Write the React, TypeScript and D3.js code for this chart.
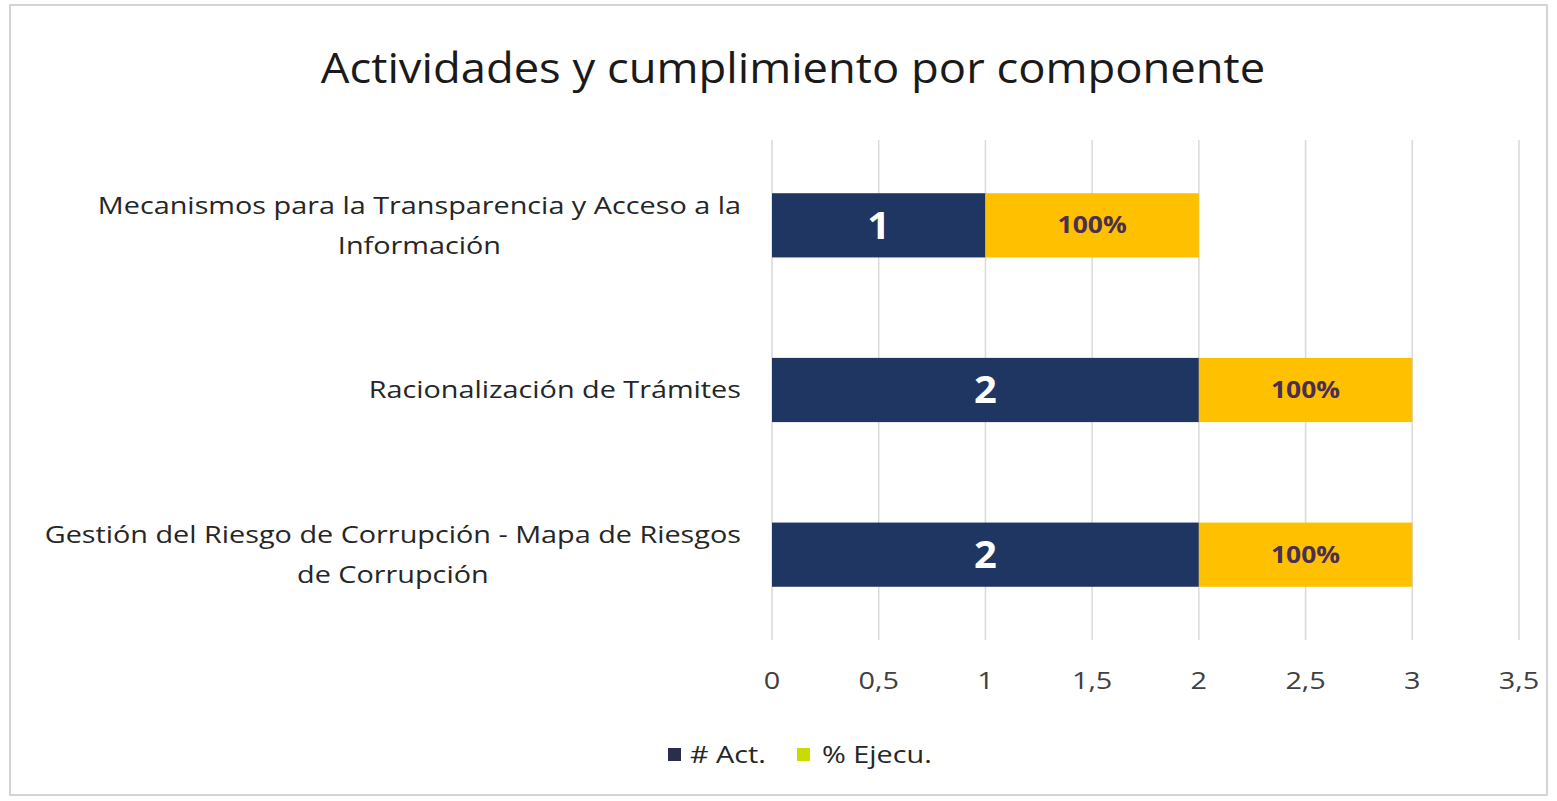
import React from "react";
import * as d3 from "d3";

const title = "Actividades y cumplimiento por componente";
const categories: string[][] = [
  ["Mecanismos para la Transparencia y Acceso a la", "Información"],
  ["Racionalización de Trámites"],
  ["Gestión del Riesgo de Corrupción - Mapa de Riesgos", "de Corrupción"],
];
const actValues = [1, 2, 2];
const ejecValues = [1, 1, 1];
const ejecLabels = ["100%", "100%", "100%"];
const xTicks = [0, 0.5, 1, 1.5, 2, 2.5, 3, 3.5];
const seriesNames = ["# Act.", "% Ejecu."];

const W = 1557;
const H = 801;
const FONT = "'Open Sans', sans-serif";

type STProps = {
  x: number;
  y: number;
  sx?: number;
  anchor?: "start" | "middle" | "end";
  size: number;
  fill: string;
  weight?: string;
  children: React.ReactNode;
};
function SText({ x, y, sx = 1.2, anchor = "start", size, fill, weight = "normal", children }: STProps) {
  return (
    <text
      transform={`translate(${x},${y}) scale(${sx},1)`}
      x={0}
      y={0}
      dy="0.35em"
      textAnchor={anchor}
      fontSize={size}
      fill={fill}
      fontWeight={weight}
    >
      {children}
    </text>
  );
}

export default function App() {
  const x = d3.scaleLinear().domain([0, 3.5]).range([772, 1519]);
  const y = d3
    .scaleBand<number>()
    .domain(d3.range(categories.length))
    .range([143, 637])
    .paddingInner(0.61)
    .paddingOuter(0.305);
  const fmt = (v: number) => String(v).replace(".", ",");
  const labelRight = 741;
  const sx = 1.2;
  return (
    <svg
      width={W}
      height={H}
      style={{ position: "absolute", left: 0, top: 0, background: "#fff" }}
      fontFamily={FONT}
    >
      <rect x={10} y={5} width={1537} height={790} fill="#fff" stroke="#d4d4d4" strokeWidth={2} />
      <SText x={793} y={68} sx={1.08} anchor="middle" size={42} fill="#1a1a1a">
        {title}
      </SText>
      {xTicks.map((t) => (
        <line key={t} x1={x(t)} x2={x(t)} y1={140} y2={640} stroke="#d9d9d9" strokeWidth={1.5} />
      ))}
      {categories.map((lines, i) => {
        const yc = y(i)! + y.bandwidth() / 2;
        const a0 = x(0);
        const a1 = x(actValues[i]);
        const e1 = x(actValues[i] + ejecValues[i]);
        return (
          <g key={i}>
            <rect x={a0} y={y(i)} width={a1 - a0} height={y.bandwidth()} fill="#1f3663" />
            <rect x={a1} y={y(i)} width={e1 - a1} height={y.bandwidth()} fill="#ffc000" />
            <SText x={(a0 + a1) / 2} y={yc} sx={1.05} anchor="middle" size={38} weight="bold" fill="#fff">
              {actValues[i]}
            </SText>
            <SText x={(a1 + e1) / 2} y={yc} sx={1.15} anchor="middle" size={23} weight="bold" fill="#4a2f52">
              {ejecLabels[i]}
            </SText>
          </g>
        );
      })}
      {categories.map((lines, i) => {
        const yc = y(i)! + y.bandwidth() / 2;
        const lh = 40;
        const y0 = yc - ((lines.length - 1) * lh) / 2;
        return (
          <g
            key={i}
            ref={(el) => {
              if (el && lines.length > 1) {
                const w = el.getBBox().width;
                el.setAttribute("transform", `translate(${-w / 2},0)`);
              }
            }}
          >
            {lines.map((l, j) => (
              <SText
                key={j}
                x={labelRight}
                y={y0 + j * lh}
                sx={sx}
                anchor={lines.length > 1 ? "middle" : "end"}
                size={24}
                fill="#262626"
              >
                {l}
              </SText>
            ))}
          </g>
        );
      })}
      {xTicks.map((t) => (
        <SText key={t} x={x(t)} y={681} sx={sx} anchor="middle" size={24} fill="#404040">
          {fmt(t)}
        </SText>
      ))}
      <g>
        <rect x={668} y={748} width={13} height={13} fill="#2a2e4c" />
        <SText x={690} y={755} sx={sx} size={24} fill="#262626">
          {seriesNames[0]}
        </SText>
        <rect x={797} y={748} width={13} height={13} fill="#c8dc00" />
        <SText x={822} y={755} sx={sx} size={24} fill="#262626">
          {seriesNames[1]}
        </SText>
      </g>
    </svg>
  );
}
